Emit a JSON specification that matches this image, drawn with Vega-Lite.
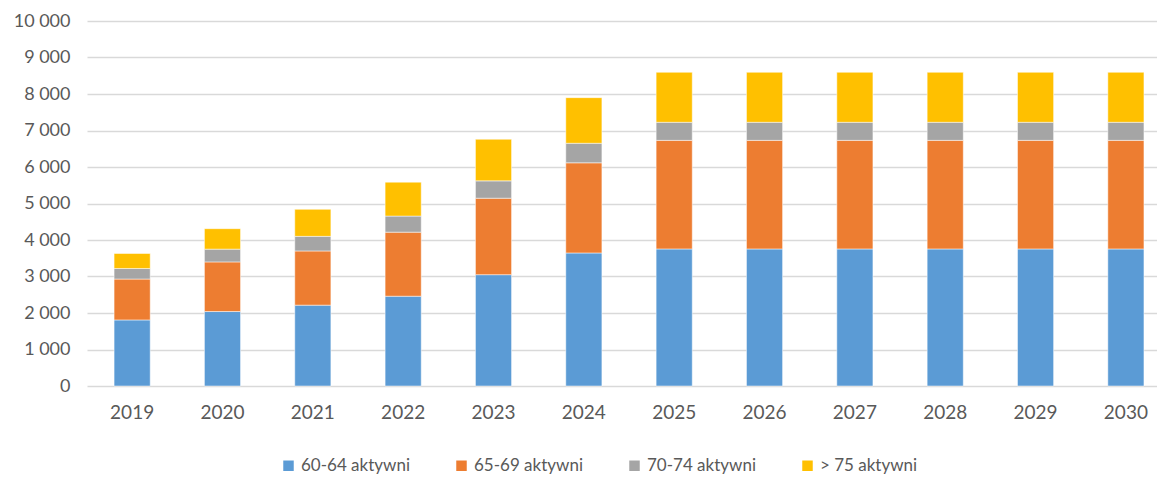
{
  "$schema": "https://vega.github.io/schema/vega-lite/v6.json",
  "width": 1070,
  "height": 365,
  "autosize": {"type": "none"},
  "padding": {"left": 87, "top": 21, "right": 0, "bottom": 91},
  "background": "white",
  "config": {"view": {"stroke": null}, "font": "Lato"},
  "data": {"values": [
    {"rok": "2019", "grupa": "60-64 aktywni", "k": 1, "v": 1810},
    {"rok": "2019", "grupa": "65-69 aktywni", "k": 2, "v": 1120},
    {"rok": "2019", "grupa": "70-74 aktywni", "k": 3, "v": 290},
    {"rok": "2019", "grupa": "> 75 aktywni", "k": 4, "v": 410},
    {"rok": "2020", "grupa": "60-64 aktywni", "k": 1, "v": 2040},
    {"rok": "2020", "grupa": "65-69 aktywni", "k": 2, "v": 1360},
    {"rok": "2020", "grupa": "70-74 aktywni", "k": 3, "v": 350},
    {"rok": "2020", "grupa": "> 75 aktywni", "k": 4, "v": 560},
    {"rok": "2021", "grupa": "60-64 aktywni", "k": 1, "v": 2215},
    {"rok": "2021", "grupa": "65-69 aktywni", "k": 2, "v": 1485},
    {"rok": "2021", "grupa": "70-74 aktywni", "k": 3, "v": 400},
    {"rok": "2021", "grupa": "> 75 aktywni", "k": 4, "v": 740},
    {"rok": "2022", "grupa": "60-64 aktywni", "k": 1, "v": 2460},
    {"rok": "2022", "grupa": "65-69 aktywni", "k": 2, "v": 1755},
    {"rok": "2022", "grupa": "70-74 aktywni", "k": 3, "v": 440},
    {"rok": "2022", "grupa": "> 75 aktywni", "k": 4, "v": 930},
    {"rok": "2023", "grupa": "60-64 aktywni", "k": 1, "v": 3050},
    {"rok": "2023", "grupa": "65-69 aktywni", "k": 2, "v": 2095},
    {"rok": "2023", "grupa": "70-74 aktywni", "k": 3, "v": 475},
    {"rok": "2023", "grupa": "> 75 aktywni", "k": 4, "v": 1140},
    {"rok": "2024", "grupa": "60-64 aktywni", "k": 1, "v": 3645},
    {"rok": "2024", "grupa": "65-69 aktywni", "k": 2, "v": 2470},
    {"rok": "2024", "grupa": "70-74 aktywni", "k": 3, "v": 535},
    {"rok": "2024", "grupa": "> 75 aktywni", "k": 4, "v": 1250},
    {"rok": "2025", "grupa": "60-64 aktywni", "k": 1, "v": 3755},
    {"rok": "2025", "grupa": "65-69 aktywni", "k": 2, "v": 2975},
    {"rok": "2025", "grupa": "70-74 aktywni", "k": 3, "v": 495},
    {"rok": "2025", "grupa": "> 75 aktywni", "k": 4, "v": 1370},
    {"rok": "2026", "grupa": "60-64 aktywni", "k": 1, "v": 3755},
    {"rok": "2026", "grupa": "65-69 aktywni", "k": 2, "v": 2975},
    {"rok": "2026", "grupa": "70-74 aktywni", "k": 3, "v": 495},
    {"rok": "2026", "grupa": "> 75 aktywni", "k": 4, "v": 1370},
    {"rok": "2027", "grupa": "60-64 aktywni", "k": 1, "v": 3755},
    {"rok": "2027", "grupa": "65-69 aktywni", "k": 2, "v": 2975},
    {"rok": "2027", "grupa": "70-74 aktywni", "k": 3, "v": 495},
    {"rok": "2027", "grupa": "> 75 aktywni", "k": 4, "v": 1370},
    {"rok": "2028", "grupa": "60-64 aktywni", "k": 1, "v": 3755},
    {"rok": "2028", "grupa": "65-69 aktywni", "k": 2, "v": 2975},
    {"rok": "2028", "grupa": "70-74 aktywni", "k": 3, "v": 495},
    {"rok": "2028", "grupa": "> 75 aktywni", "k": 4, "v": 1370},
    {"rok": "2029", "grupa": "60-64 aktywni", "k": 1, "v": 3755},
    {"rok": "2029", "grupa": "65-69 aktywni", "k": 2, "v": 2975},
    {"rok": "2029", "grupa": "70-74 aktywni", "k": 3, "v": 495},
    {"rok": "2029", "grupa": "> 75 aktywni", "k": 4, "v": 1370},
    {"rok": "2030", "grupa": "60-64 aktywni", "k": 1, "v": 3755},
    {"rok": "2030", "grupa": "65-69 aktywni", "k": 2, "v": 2975},
    {"rok": "2030", "grupa": "70-74 aktywni", "k": 3, "v": 495},
    {"rok": "2030", "grupa": "> 75 aktywni", "k": 4, "v": 1370}
  ]},
  "mark": {"type": "bar", "stroke": "white", "strokeWidth": 0.5},
  "encoding": {
    "x": {
      "field": "rok", "type": "ordinal", "title": null,
      "scale": {"paddingInner": 0.6, "paddingOuter": 0.222, "align": 0.675},
      "axis": {"labelAngle": 0, "ticks": false, "domain": false, "labelFontSize": 19, "labelColor": "#595959", "labelPadding": 17, "grid": false}
    },
    "y": {
      "field": "v", "type": "quantitative", "title": null, "stack": "zero",
      "scale": {"domain": [0, 10000], "nice": false},
      "axis": {"values": [0,1000,2000,3000,4000,5000,6000,7000,8000,9000,10000], "labelExpr": "replace(format(datum.value, ','), ',', ' ')", "labelFontSize": 18, "labelColor": "#595959", "ticks": false, "domain": false, "labelPadding": 17, "gridColor": "#d9d9d9", "gridWidth": 1.3}
    },
    "color": {
      "field": "grupa", "type": "nominal", "title": null,
      "scale": {"domain": ["60-64 aktywni", "65-69 aktywni", "70-74 aktywni", "> 75 aktywni"], "range": ["#5B9BD5", "#ED7D31", "#A5A5A5", "#FFC000"]},
      "legend": {"orient": "none", "direction": "horizontal", "legendX": 193, "legendY": 436, "symbolType": "square", "symbolSize": 110, "symbolStrokeWidth": 0, "labelFontSize": 17, "labelColor": "#595959", "columnPadding": 43, "labelOffset": 4}
    },
    "order": {"field": "k", "type": "quantitative"}
  }
}
